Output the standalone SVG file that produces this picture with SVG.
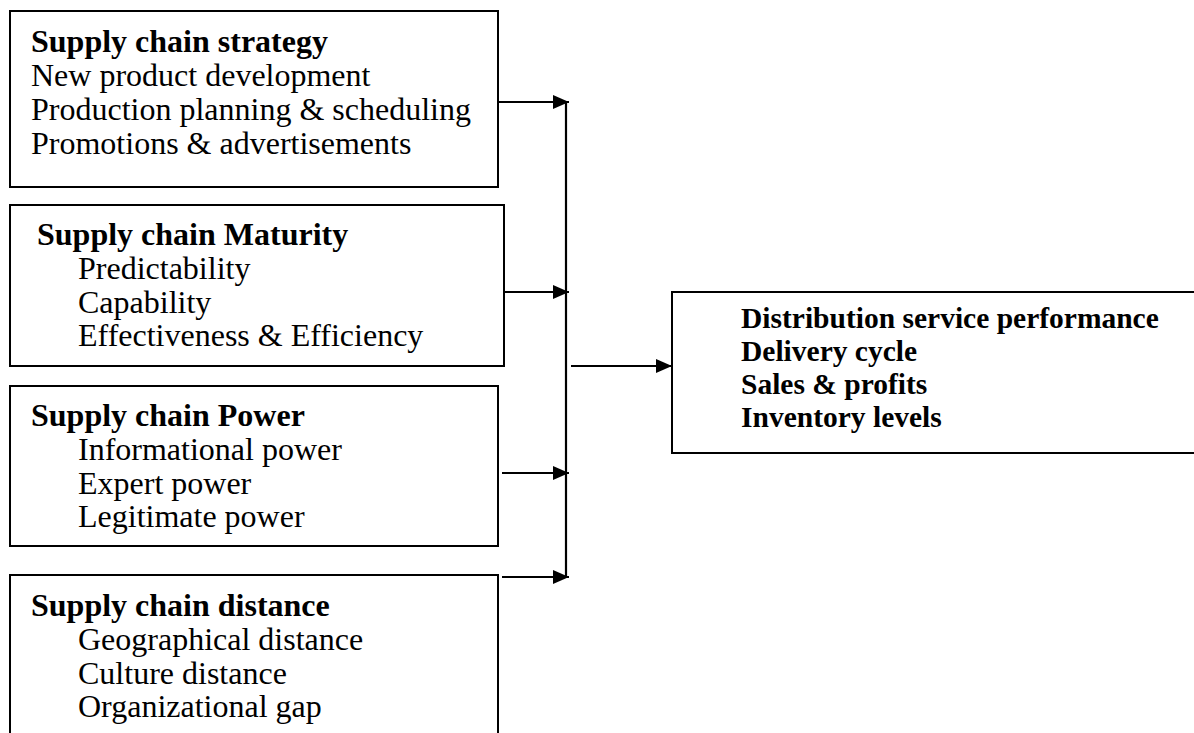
<svg xmlns="http://www.w3.org/2000/svg" width="1194" height="733" viewBox="0 0 1194 733">
<defs>
<marker id="ah" markerWidth="16" markerHeight="14" refX="16" refY="7" orient="auto" markerUnits="userSpaceOnUse">
<path d="M0,0 L16,7 L0,14 Z" fill="#000"/>
</marker>
<style>
.box{fill:#fff;stroke:#000;stroke-width:2}
.t{font-family:"Liberation Serif","Times New Roman",serif;font-size:32px;fill:#000}
.b{font-weight:bold}
.r{font-size:29.5px}
.c{stroke:#000;stroke-width:2.2;fill:none}
</style>
</defs>
<rect width="1194" height="733" fill="#fff"/>
<g id="strategy">
<rect class="box" x="10" y="11" width="488" height="176"/>
<text class="t b" x="31" y="52">Supply chain strategy</text>
<text class="t" x="31" y="86">New product development</text>
<text class="t" x="31" y="120">Production planning &amp; scheduling</text>
<text class="t" x="31" y="154">Promotions &amp; advertisements</text>
</g>
<g id="maturity">
<rect class="box" x="10" y="205" width="494" height="161"/>
<text class="t b" x="37" y="245">Supply chain Maturity</text>
<text class="t" x="78" y="279">Predictability</text>
<text class="t" x="78" y="313">Capability</text>
<text class="t" x="78" y="346">Effectiveness &amp; Efficiency</text>
</g>
<g id="power">
<rect class="box" x="10" y="386" width="488" height="160"/>
<text class="t b" x="31" y="426">Supply chain Power</text>
<text class="t" x="78" y="460">Informational power</text>
<text class="t" x="78" y="494">Expert power</text>
<text class="t" x="78" y="527">Legitimate power</text>
</g>
<g id="distance">
<rect class="box" x="10" y="575" width="488" height="170"/>
<text class="t b" x="31" y="616">Supply chain distance</text>
<text class="t" x="78" y="650">Geographical distance</text>
<text class="t" x="78" y="684">Culture distance</text>
<text class="t" x="78" y="717">Organizational gap</text>
</g>
<g id="outcomes">
<rect class="box" x="672" y="292" width="540" height="161"/>
<text class="t b r" x="741" y="328">Distribution service performance</text>
<text class="t b r" x="741" y="361">Delivery cycle</text>
<text class="t b r" x="741" y="394">Sales &amp; profits</text>
<text class="t b r" x="741" y="427">Inventory levels</text>
</g>
<g id="connectors">
<line class="c" x1="566" y1="101" x2="566" y2="578"/>
<line class="c" x1="498" y1="102" x2="569" y2="102" marker-end="url(#ah)"/>
<line class="c" x1="504" y1="292" x2="569" y2="292" marker-end="url(#ah)"/>
<line class="c" x1="502" y1="473" x2="569" y2="473" marker-end="url(#ah)"/>
<line class="c" x1="502" y1="577" x2="569" y2="577" marker-end="url(#ah)"/>
<line class="c" x1="571" y1="366" x2="672" y2="366" marker-end="url(#ah)"/>
</g>
</svg>
